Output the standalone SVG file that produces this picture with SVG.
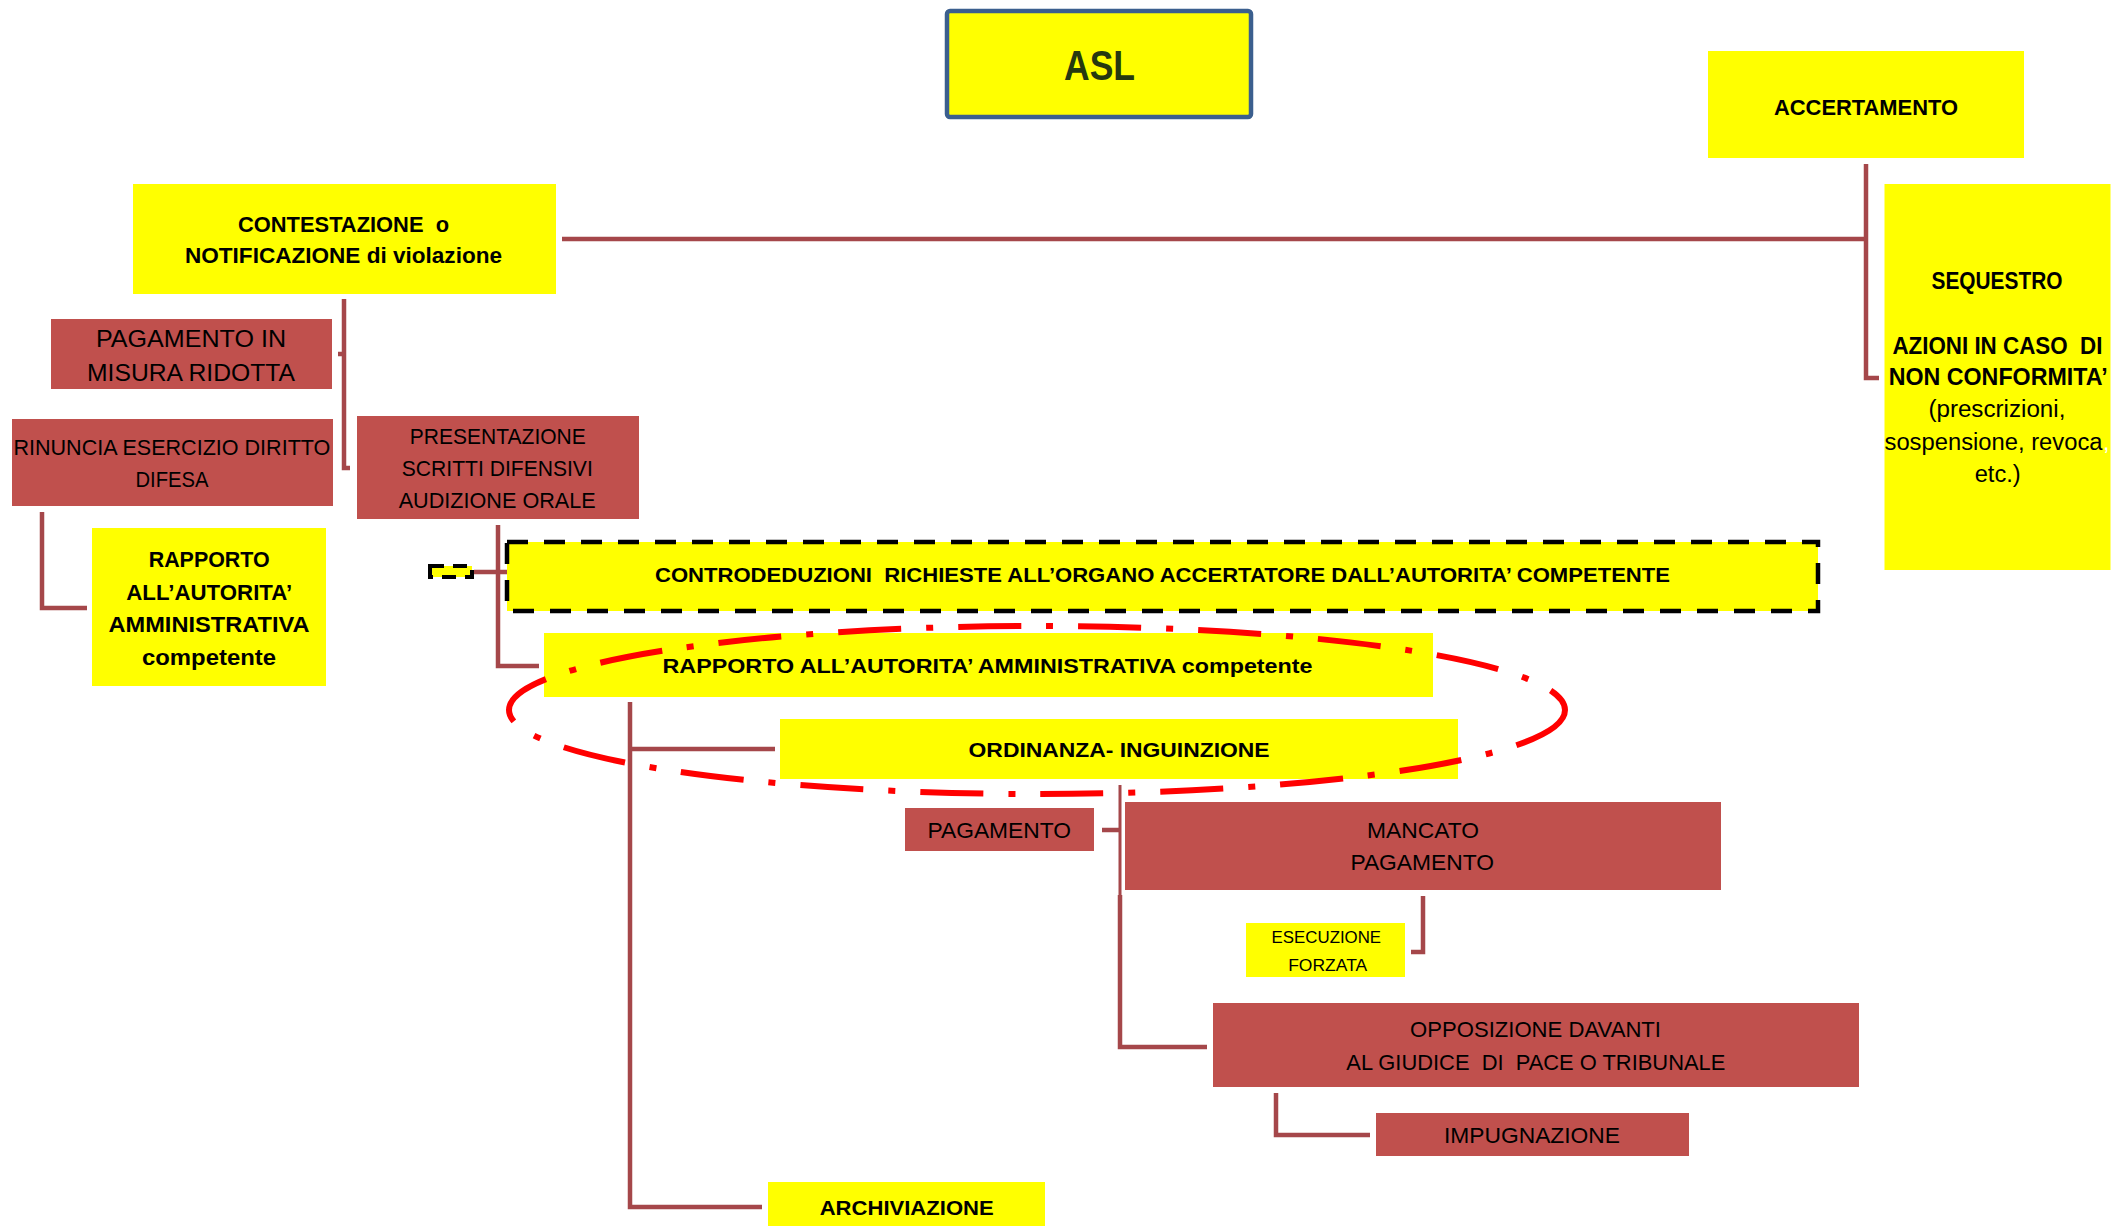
<svg xmlns="http://www.w3.org/2000/svg" width="2125" height="1226" viewBox="0 0 2125 1226">
<style>
.y{fill:#FFFF00}
.r{fill:#C0504D}
.c{fill:none;stroke:#A5474A;stroke-width:4.5}
text{font-family:"Liberation Sans",Arial,sans-serif;fill:#000;white-space:pre}
.b{font-weight:bold}
</style>
<rect x="0" y="0" width="2125" height="1226" fill="#FFFFFF"/>
<g id="connectors">
<path class="c" d="M562 239 H1866 M1866 164 V378 H1879"/>
<path class="c" d="M344 299 V468 H350 M338 354 H344"/>
<path class="c" d="M42 512 V608 H87"/>
<path class="c" d="M498 525 V666 H539 M474 572 H507"/>
<path class="c" d="M630 702 V1207 H762 M630 749 H775"/>
<path class="c" d="M1120 785 V895" style="stroke-width:3"/>
<path class="c" d="M1120 895 V1047 H1207 M1102 830 H1120"/>
<path class="c" d="M1423 896 V952 H1411"/>
<path class="c" d="M1276 1093 V1135 H1370"/>
</g>
<g id="asl">
<rect x="947" y="11" width="304" height="106" rx="3" class="y" stroke="#3B5F8E" stroke-width="4.5"/>
<text x="1064" y="80" class="b" font-size="42" textLength="71" lengthAdjust="spacingAndGlyphs" style="fill:#26390F">ASL</text>
</g>
<g id="contestazione">
<rect x="133" y="184" width="423" height="110" class="y"/>
<text x="238" y="232" class="b" font-size="22" textLength="211" lengthAdjust="spacingAndGlyphs">CONTESTAZIONE  o</text>
<text x="185" y="263" class="b" font-size="22" textLength="317" lengthAdjust="spacingAndGlyphs">NOTIFICAZIONE di violazione</text>
</g>
<g id="accertamento">
<rect x="1708" y="51" width="316" height="107" class="y"/>
<text x="1774" y="115" class="b" font-size="22" textLength="184" lengthAdjust="spacingAndGlyphs">ACCERTAMENTO</text>
</g>
<g id="sequestro">
<rect x="1884.5" y="184" width="226" height="386" class="y"/>
<text x="1931.5" y="289" class="b" font-size="23" textLength="131" lengthAdjust="spacingAndGlyphs">SEQUESTRO</text>
<text x="1892.4" y="354" class="b" font-size="23" textLength="210" lengthAdjust="spacingAndGlyphs">AZIONI IN CASO  DI</text>
<text x="1888.7" y="385" class="b" font-size="23" textLength="219" lengthAdjust="spacingAndGlyphs">NON CONFORMITA’</text>
<text x="1928.4" y="417" font-size="23" textLength="137" lengthAdjust="spacingAndGlyphs">(prescrizioni,</text>
<text x="1884.5" y="450" font-size="23" textLength="218" lengthAdjust="spacingAndGlyphs">sospensione, revoca</text>
<text x="2103" y="450" font-size="23" style="fill:#FFFFFF">,</text>
<text x="1974.7" y="482" font-size="23" textLength="46" lengthAdjust="spacingAndGlyphs">etc.)</text>
</g>
<g id="pagamento-ridotta">
<rect x="51" y="319" width="281" height="70" class="r"/>
<text x="96" y="347" font-size="24" textLength="190" lengthAdjust="spacingAndGlyphs">PAGAMENTO IN</text>
<text x="87" y="381" font-size="24" textLength="208" lengthAdjust="spacingAndGlyphs">MISURA RIDOTTA</text>
</g>
<g id="rinuncia">
<rect x="12" y="419" width="321" height="87" class="r"/>
<text x="13.4" y="455" font-size="22.5" textLength="317" lengthAdjust="spacingAndGlyphs">RINUNCIA ESERCIZIO DIRITTO</text>
<text x="135.5" y="487" font-size="22.5" textLength="73" lengthAdjust="spacingAndGlyphs">DIFESA</text>
</g>
<g id="presentazione">
<rect x="357" y="416" width="282" height="103" class="r"/>
<text x="409.8" y="444" font-size="22" textLength="176" lengthAdjust="spacingAndGlyphs">PRESENTAZIONE</text>
<text x="401.8" y="476" font-size="22" textLength="191" lengthAdjust="spacingAndGlyphs">SCRITTI DIFENSIVI</text>
<text x="398.7" y="508" font-size="22" textLength="197" lengthAdjust="spacingAndGlyphs">AUDIZIONE ORALE</text>
</g>
<g id="rapporto-left">
<rect x="92" y="528" width="234" height="158" class="y"/>
<text x="148.7" y="567" class="b" font-size="22" textLength="121" lengthAdjust="spacingAndGlyphs">RAPPORTO</text>
<text x="126.3" y="600" class="b" font-size="22" textLength="166" lengthAdjust="spacingAndGlyphs">ALL’AUTORITA’</text>
<text x="108.5" y="632" class="b" font-size="22" textLength="201" lengthAdjust="spacingAndGlyphs">AMMINISTRATIVA</text>
<text x="142" y="665" class="b" font-size="22" textLength="134" lengthAdjust="spacingAndGlyphs">competente</text>
</g>
<g id="mini-dashed">
<rect x="430" y="566" width="42" height="11" class="y" stroke="#000" stroke-width="4" stroke-dasharray="14 9"/>
</g>
<g id="controdeduzioni">
<rect x="507" y="542" width="1311" height="69" class="y" stroke="#000" stroke-width="4.5" stroke-dasharray="21 16"/>
<text x="655" y="582" class="b" font-size="21" textLength="1015" lengthAdjust="spacingAndGlyphs">CONTRODEDUZIONI  RICHIESTE ALL’ORGANO ACCERTATORE DALL’AUTORITA’ COMPETENTE</text>
</g>
<g id="rapporto-wide">
<rect x="544" y="633" width="889" height="64" class="y"/>
<text x="662.5" y="673" class="b" font-size="21" textLength="650" lengthAdjust="spacingAndGlyphs">RAPPORTO ALL’AUTORITA’ AMMINISTRATIVA competente</text>
</g>
<g id="ordinanza">
<rect x="780" y="719" width="678" height="60" class="y"/>
<text x="968.6" y="757" class="b" font-size="21" textLength="301" lengthAdjust="spacingAndGlyphs">ORDINANZA- INGUINZIONE</text>
</g>
<g id="pagamento">
<rect x="905" y="808" width="189" height="43" class="r"/>
<text x="927.5" y="838" font-size="22.5" textLength="143.5" lengthAdjust="spacingAndGlyphs">PAGAMENTO</text>
</g>
<g id="mancato">
<rect x="1125" y="802" width="596" height="88" class="r"/>
<text x="1367" y="838" font-size="22" textLength="112" lengthAdjust="spacingAndGlyphs">MANCATO</text>
<text x="1350.4" y="870" font-size="22" textLength="143.5" lengthAdjust="spacingAndGlyphs">PAGAMENTO</text>
</g>
<g id="esecuzione">
<rect x="1246" y="923" width="159" height="54" class="y"/>
<text x="1271.6" y="943" font-size="16" textLength="109.5" lengthAdjust="spacingAndGlyphs">ESECUZIONE</text>
<text x="1288.2" y="971" font-size="16" textLength="79" lengthAdjust="spacingAndGlyphs">FORZATA</text>
</g>
<g id="opposizione">
<rect x="1213" y="1003" width="646" height="84" class="r"/>
<text x="1410" y="1037" font-size="22" textLength="251" lengthAdjust="spacingAndGlyphs">OPPOSIZIONE DAVANTI</text>
<text x="1346.3" y="1070" font-size="22" textLength="379" lengthAdjust="spacingAndGlyphs">AL GIUDICE  DI  PACE O TRIBUNALE</text>
</g>
<g id="impugnazione">
<rect x="1376" y="1113" width="313" height="43" class="r"/>
<text x="1444" y="1143" font-size="22" textLength="176" lengthAdjust="spacingAndGlyphs">IMPUGNAZIONE</text>
</g>
<g id="archiviazione">
<rect x="768" y="1182" width="277" height="50" class="y"/>
<text x="819.7" y="1215" class="b" font-size="21" textLength="174" lengthAdjust="spacingAndGlyphs">ARCHIVIAZIONE</text>
</g>
<g id="highlight">
<ellipse cx="1037" cy="710" rx="528" ry="84" fill="none" stroke="#FF0000" stroke-width="6" stroke-dasharray="63 25 7 25"/>
</g>
</svg>
